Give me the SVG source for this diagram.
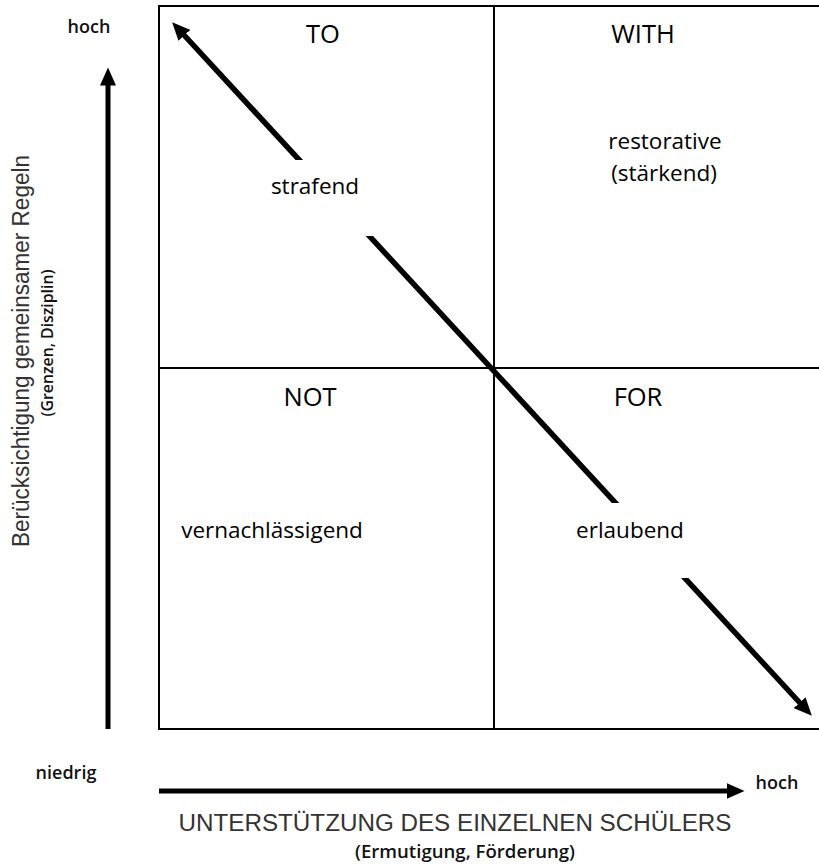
<svg xmlns="http://www.w3.org/2000/svg" width="819" height="864" viewBox="0 0 819 864">
  <defs>
    <marker id="ah" viewBox="0 0 18 16" refX="0.5" refY="8" markerWidth="18" markerHeight="16" markerUnits="userSpaceOnUse" orient="auto-start-reverse">
      <path d="M0,0 L18,8 L0,16 z" fill="#000"/>
    </marker>
    <clipPath id="gaps">
      <rect x="0" y="0" width="819" height="160"/>
      <rect x="0" y="236" width="819" height="267"/>
      <rect x="0" y="578" width="819" height="286"/>
    </clipPath>
    <style>
      .grid { fill: none; stroke: #000; stroke-width: 2; }
      .arrow { fill: none; stroke: #000; stroke-width: 5; }
      .diag { fill: none; stroke: #000; stroke-width: 5.5; }
      .title { font-family: "Open Sans", "Noto Sans", sans-serif; font-size: 25.5px; fill: #000; text-anchor: middle; }
      .lbl { font-family: "Open Sans", "Noto Sans", sans-serif; font-size: 22.5px; fill: #000; text-anchor: middle; }
      .small { font-family: "Open Sans", "Noto Sans", sans-serif; font-size: 18px; font-weight: 600; fill: #111; text-anchor: middle; }
      .axis { font-family: "Liberation Sans", Arial, sans-serif; font-size: 23px; fill: #333; text-anchor: middle; }
    </style>
  </defs>

  <rect width="819" height="864" fill="#fff"/>

  <g id="grid">
    <rect class="grid" x="159" y="6" width="700" height="723"/>
    <line class="grid" x1="494" y1="6" x2="494" y2="729"/>
    <line class="grid" x1="159" y1="368" x2="819" y2="368"/>
  </g>

  <g id="quadrant-to">
    <text class="title" x="323" y="43">TO</text>
    <text class="lbl" x="315" y="194">strafend</text>
  </g>
  <g id="quadrant-with">
    <text class="title" x="643" y="43">WITH</text>
    <text class="lbl" x="665" y="149">restorative</text>
    <text class="lbl" x="664" y="181">(stärkend)</text>
  </g>
  <g id="quadrant-not">
    <text class="title" x="310" y="406">NOT</text>
    <text class="lbl" x="272" y="538">vernachlässigend</text>
  </g>
  <g id="quadrant-for">
    <text class="title" x="638" y="406">FOR</text>
    <text class="lbl" x="630" y="538">erlaubend</text>
  </g>

  <g id="connectors">
    <line class="arrow" x1="108" y1="729" x2="108" y2="85" marker-end="url(#ah)"/>
    <line class="arrow" x1="159" y1="791" x2="727" y2="791" marker-end="url(#ah)"/>
    <g clip-path="url(#gaps)">
      <line class="diag" x1="184" y1="35" x2="800" y2="703" marker-start="url(#ah)" marker-end="url(#ah)"/>
    </g>
  </g>

  <g id="y-axis-labels">
    <text class="small" x="89" y="33">hoch</text>
    <text class="small" x="66" y="779">niedrig</text>
    <text class="axis" transform="translate(29,351) rotate(-90)" x="0" y="0" textLength="392" lengthAdjust="spacingAndGlyphs">Berücksichtigung gemeinsamer Regeln</text>
    <text class="small" transform="translate(53,343) rotate(-90)" x="0" y="0" style="font-size:15.5px" textLength="147" lengthAdjust="spacingAndGlyphs">(Grenzen, Disziplin)</text>
  </g>

  <g id="x-axis-labels">
    <text class="small" x="777" y="789">hoch</text>
    <text class="axis" x="455" y="831" textLength="553" lengthAdjust="spacingAndGlyphs">UNTERSTÜTZUNG DES EINZELNEN SCHÜLERS</text>
    <text class="small" x="465" y="858" textLength="220" lengthAdjust="spacingAndGlyphs">(Ermutigung, Förderung)</text>
  </g>
</svg>
